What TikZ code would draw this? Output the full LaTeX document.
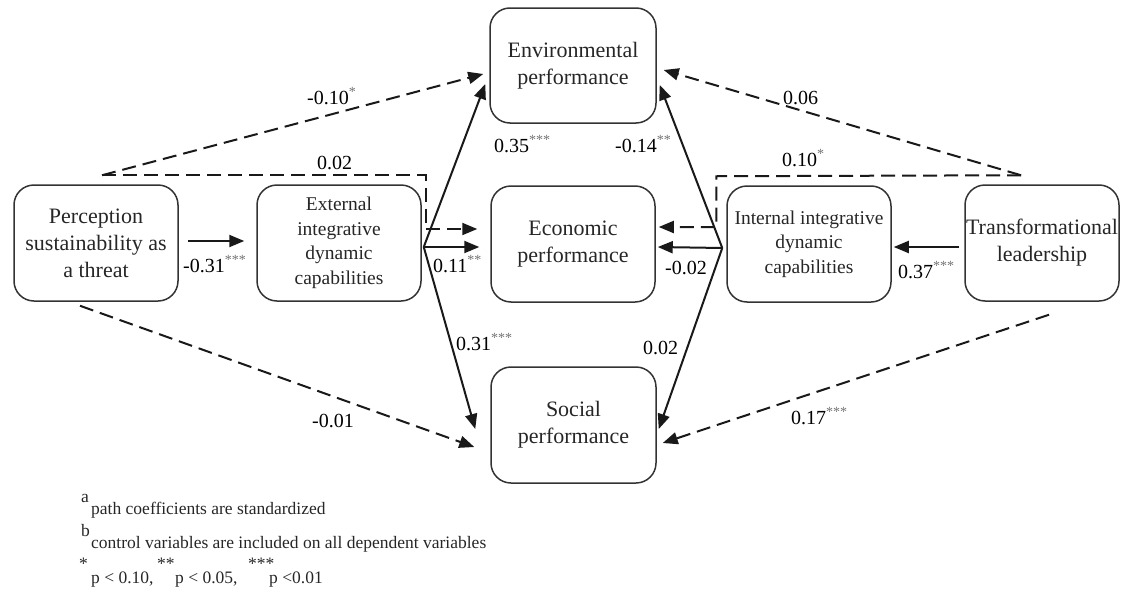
\documentclass[tikz,border=0pt]{standalone}
\usepackage{fontspec}
\setmainfont{Liberation Serif}
\usetikzlibrary{arrows.meta,calc}
\newcommand\sig[1]{\textsuperscript{\color{black!55}#1}}
\begin{document}
\begin{tikzpicture}[x=1pt,y=-1pt,
  box/.style={draw=black!80, line width=1.5pt, rounded corners=20pt, align=center, text=black!85, inner sep=0pt, minimum width=164pt, minimum height=116pt},
  big/.style={font=\fontsize{22}{27}\selectfont},
  small/.style={font=\fontsize{19.5}{24.5}\selectfont},
  conn/.style={line width=2pt, draw=black!90, line join=miter},
  solidarrow/.style={conn, -{Triangle[length=15pt,width=12pt]}},
  dasharrow/.style={solidarrow, dash pattern=on 14pt off 7pt},
  coef/.style={anchor=base west, inner sep=0pt, font=\fontsize{20}{24}\selectfont},
  note/.style={anchor=base west, inner sep=0pt, font=\fontsize{17.5}{21}\selectfont, text=black!85}]
\useasboundingbox (0,0) rectangle (1121,589);

% boxes
\node[box,big] (perc) at (96,243) {Perception\\sustainability as\\a threat};
\node[box,small] (ext) at (339,243) {External\\integrative\\dynamic\\capabilities};
\node[box,big] (econ) at (573,244) {Economic\\performance};
\node[box,small] (intl) at (809,244) {Internal integrative\\dynamic\\capabilities};
\node[box,big,minimum width=154pt] (trans) at (1042,243) {Transformational\\leadership};
\node[box,big,minimum width=166pt,minimum height=115pt] (env) at (573,65.5) {Environmental\\performance};
\node[box,big,minimum width=165pt] (soc) at (573.5,425) {Social\\performance};

% helper coordinates
\coordinate (aL) at ($(ext.east)+(2,4)$);
\coordinate (aR) at ($(intl.west)+(-4,4)$);
\coordinate (pT) at ($(perc.north)+(6,-9)$);
\coordinate (tT) at ($(trans.north)+(-21,-9)$);
\coordinate (c1) at ($(ext.north east)+(4,-9)$);
\coordinate (c2) at ($(intl.north west)+(-10,-9)$);
\coordinate (eL) at ($(econ.west)+(-13,-15)$);
\coordinate (eR) at ($(econ.east)+(3,-17)$);

% solid paths
\draw[solidarrow] ($(perc.east)+(9,-2)$) -- ($(ext.west)+(-12,-2)$);
\draw[solidarrow] (aL) -- ($(env.west)+(-4,18.5)$);
\draw[solidarrow] (aL) -- ($(econ.west)+(-11,3)$);
\draw[solidarrow] (aL) -- ($(soc.west)+(-15,4)$);
\draw[solidarrow] (aR) -- ($(env.east)+(3,19.5)$);
\draw[solidarrow] (aR) -- ($(econ.east)+(2,3)$);
\draw[solidarrow] (aR) -- ($(soc.east)+(2,4)$);
\draw[solidarrow] ($(trans.west)+(-5,4)$) -- ($(intl.east)+(2,3)$);

% dashed paths
\draw[dasharrow] (pT) -- ($(env.west)+(-6,8.5)$);
\draw[dasharrow] (pT) -- (c1) -- (c1 |- eL) -- (eL);
\draw[dasharrow] (tT) -- ($(env.east)+(7,4.5)$);
\draw[dasharrow] (tT) -- (c2) -- (c2 |- eR) -- (eR);
\draw[dasharrow] ($(perc.south)+(-16,4)$) -- ($(soc.west)+(-16,22)$);
\draw[dasharrow] ($(trans.south)+(7,13)$) -- ($(soc.east)+(6,18)$);

% coefficients
\node[coef] (l1) at (183,272) {-0.31\sig{***}};
\node[coef] (l2) at (307,104) {-0.10\sig{*}};
\node[coef] (l3) at (317,169) {0.02};
\node[coef] (l4) at (494,152) {0.35\sig{***}};
\node[coef] (l5) at (615,152) {-0.14\sig{**}};
\node[coef] (l6) at (783,104) {0.06};
\node[coef] (l7) at (782,166) {0.10\sig{*}};
\node[coef] (l8) at (433,272) {0.11\sig{**}};
\node[coef] (l9) at (665,274) {-0.02};
\node[coef] (l10) at (456,350) {0.31\sig{***}};
\node[coef] (l11) at (643,354) {0.02};
\node[coef] (l12) at (312,427) {-0.01};
\node[coef] (l13) at (791,424) {0.17\sig{***}};
\node[coef] (l14) at (898,278) {0.37\sig{***}};

% notes
\node[note] (fa) at (81,502) {a};
\node[note] (fat) at (91,514) {path coefficients are standardized};
\node[note] (fb) at (81,536) {b};
\node[note] (fbt) at (91,548) {control variables are included on all dependent variables};
\node[note] (fs1) at (79,569) {*};
\node[note] (fp1) at (91,583) {p < 0.10,};
\node[note] (fs2) at (157,569) {**};
\node[note] (fp2) at (175,583) {p < 0.05,};
\node[note] (fs3) at (248,569) {***};
\node[note] (fp3) at (269,583) {p <0.01};
\end{tikzpicture}
\end{document}
